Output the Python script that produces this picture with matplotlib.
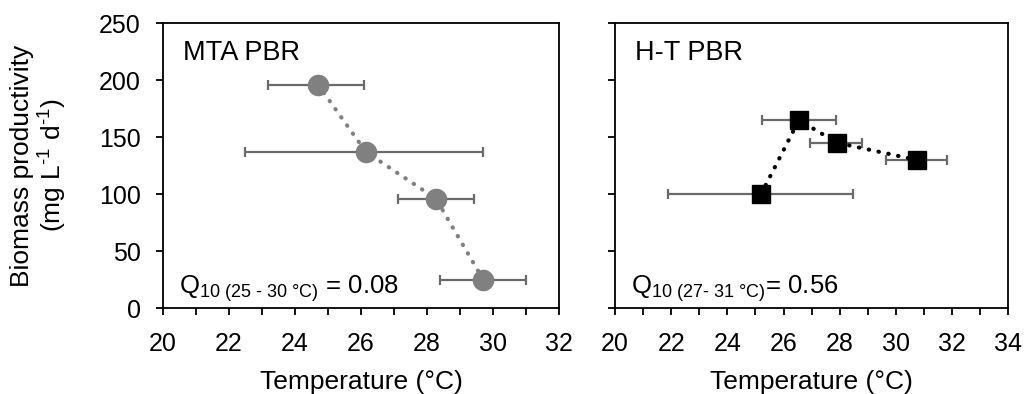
import matplotlib
matplotlib.use("Agg")
import matplotlib.pyplot as plt

plt.rcParams['font.family'] = ['Liberation Sans', 'DejaVu Sans']
plt.rcParams['mathtext.fontset'] = 'custom'
plt.rcParams['mathtext.rm'] = 'Liberation Sans'

# MTA PBR
mta_temp = [24.7, 26.15, 28.27, 29.7]
mta_prod = [196, 137, 96, 25]
mta_err_lo = [23.2, 22.5, 27.12, 28.4]
mta_err_hi = [26.1, 29.7, 29.42, 31.0]

# H-T PBR
ht_temp = [25.2, 26.55, 27.9, 30.75]
ht_prod = [100, 165, 145, 130]
ht_err_lo = [21.9, 25.25, 26.96, 29.64]
ht_err_hi = [28.46, 27.86, 28.8, 31.82]

fig = plt.figure(figsize=(10.24, 3.94), dpi=100)
ax1 = fig.add_axes([0.159, 0.218, 0.387, 0.7234])
ax2 = fig.add_axes([0.6006, 0.218, 0.384, 0.7234])

def panel(ax, t, p, lo, hi, color, marker, xmax, name, q10):
    xerr = [[ti - l for ti, l in zip(t, lo)], [h - ti for ti, h in zip(t, hi)]]
    ax.errorbar(t, p, xerr=xerr, fmt='none', ecolor='#6a6a6a', elinewidth=1.6,
                capsize=3.4, capthick=1.6, zorder=2)
    ax.plot(t, p, linestyle=(0, (0.1, 2.3)), dash_capstyle='round', color=color,
            linewidth=3.0, zorder=3)
    ax.plot(t, p, linestyle='none', marker=marker, markersize=14.5 if marker == 'o' else 13.5,
            color=color, zorder=4)
    ax.set_xlim(20, xmax)
    ax.set_ylim(0, 250)
    ax.set_xticks(range(20, xmax + 1, 2))
    ax.set_xticks(range(20, xmax + 1, 1), minor=True)
    ax.set_yticks(range(0, 251, 50))
    ax.tick_params(axis='both', which='major', labelsize=18, length=5, width=1.3,
                   direction='out')
    ax.tick_params(axis='x', which='major', pad=12)
    ax.tick_params(axis='y', which='major', pad=11)
    ax.tick_params(axis='x', which='minor', length=5, width=1.3, direction='out')
    for s in ax.spines.values():
        s.set_linewidth(1.3)
    ax.set_xlabel('Temperature (°C)', fontsize=19, labelpad=10)
    ax.text(0.05, 0.870, name, transform=ax.transAxes, fontsize=19.5,
            va='baseline', ha='left')
    ax.text(0.04, 0.053, q10, transform=ax.transAxes, fontsize=18.5,
            va='baseline', ha='left')

panel(ax1, mta_temp, mta_prod, mta_err_lo, mta_err_hi, '#808080', 'o', 32,
      'MTA PBR', r'Q$_{\text{10 (25 - 30 °C)}}$ = 0.08')
panel(ax2, ht_temp, ht_prod, ht_err_lo, ht_err_hi, 'black', 's', 34,
      'H-T PBR', r'Q$_{\text{10 (27- 31 °C)}}$= 0.56')
ax2.set_yticklabels([])
ax1.set_ylabel('Biomass productivity\n' + r'(mg L$^{\text{-1}}$ d$^{\text{-1}}$)',
               fontsize=19, linespacing=1.05)
ax1.yaxis.set_label_coords(-0.24, 0.5)

fig.savefig('out.png', dpi=100)
